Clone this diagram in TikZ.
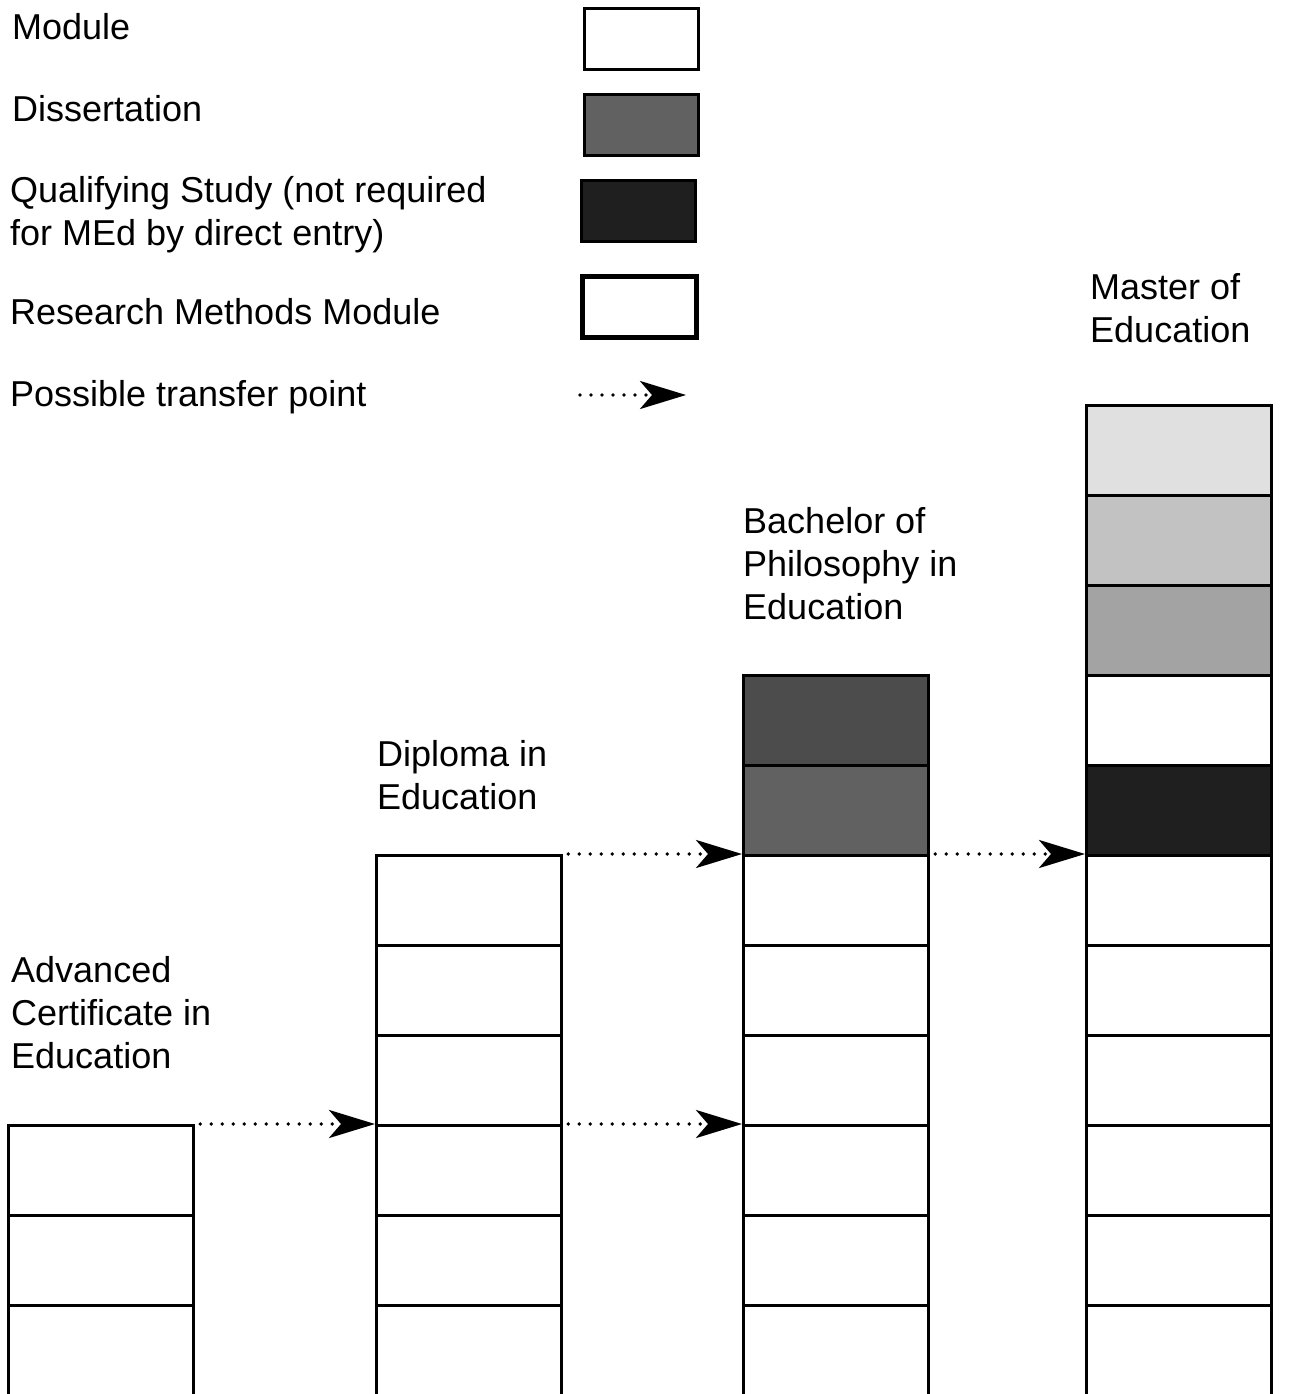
\documentclass[tikz,border=0pt]{standalone}
\usepackage{fontspec}
\setmainfont{Liberation Sans}
\usetikzlibrary{arrows.meta}

\begin{document}
\begin{tikzpicture}[x=1pt, y=-1pt,
    module/.style={draw, rectangle, line width=3.2pt, minimum width=185pt, minimum height=90pt, inner sep=0pt, anchor=north west, fill=white},
    dissertation/.style={module, fill=black!62},
    qualifying/.style={module, fill=black!88},
    research/.style={module, line width=5pt},
    keybox/.style={minimum width=114pt, minimum height=61pt},
    transfer/.style={line width=3.8pt, dash pattern=on 0pt off 11pt, line cap=round, -{Stealth[length=46pt, width=28pt, inset=12pt]}},
    label/.style={anchor=north west, inner sep=0pt, align=left, font=\fontsize{36}{43}\selectfont},
]
\useasboundingbox (0,0) rectangle (1293,1394);

% --- legend ---
\node[label] (lblmodule) at (12,13) {Module};
\node[label] (lbldiss) at (12,95) {Dissertation};
\node[label] (lblqual) at (10,176) {Qualifying Study (not required\\for MEd by direct entry)};
\node[label] (lblresearch) at (10,298) {Research Methods Module};
\node[label] (lbltransfer) at (10,380) {Possible transfer point};

\node[module, keybox] (keymodule) at (583,7) {};
\node[dissertation, keybox] (keydiss) at (583,93) {};
\node[qualifying, keybox] (keyqual) at (580,179) {};
\node[research, keybox] (keyresearch) at (580,274) {};
\coordinate (keyfrom) at (580,395);
\coordinate (keyto) at (686,395);
\draw[transfer] (keyfrom) -- (keyto);

% --- Advanced Certificate in Education ---
\node[label] (lblace) at (11,956) {Advanced\\Certificate in\\Education};
\foreach \i in {1,...,3}
    \node[module] (ace\i) at (7,{1124+(\i-1)*90}) {};

% --- Diploma in Education ---
\node[label] (lbldip) at (377,740) {Diploma in\\Education};
\foreach \i in {1,...,6}
    \node[module] (dip\i) at (375,{854+(\i-1)*90}) {};

% --- Bachelor of Philosophy in Education ---
\node[label] (lblbphil) at (743,507) {Bachelor of\\Philosophy in\\Education};
\node[dissertation, fill=black!70] (bp1) at (742,674) {};
\node[dissertation] (bp2) at (742,764) {};
\foreach \i in {3,...,8}
    \node[module] (bp\i) at (742,{674+(\i-1)*90}) {};

% --- Master of Education ---
\node[label] (lblmed) at (1090,273) {Master of\\Education};
\node[dissertation, fill=black!12] (med1) at (1085,404) {};
\node[dissertation, fill=black!24] (med2) at (1085,494) {};
\node[dissertation, fill=black!36] (med3) at (1085,584) {};
\node[module] (med4) at (1085,674) {};
\node[qualifying] (med5) at (1085,764) {};
\foreach \i in {6,...,11}
    \node[module] (med\i) at (1085,{404+(\i-1)*90}) {};

% --- transfer points ---
\draw[transfer] ([xshift=5pt]ace1.north east) -- (dip4.north west);
\draw[transfer] ([xshift=5pt]dip4.north east) -- (bp6.north west);
\draw[transfer] ([xshift=5pt]dip1.north east) -- (bp3.north west);
\draw[transfer] ([xshift=5pt]bp3.north east) -- (med6.north west);
\end{tikzpicture}
\end{document}
